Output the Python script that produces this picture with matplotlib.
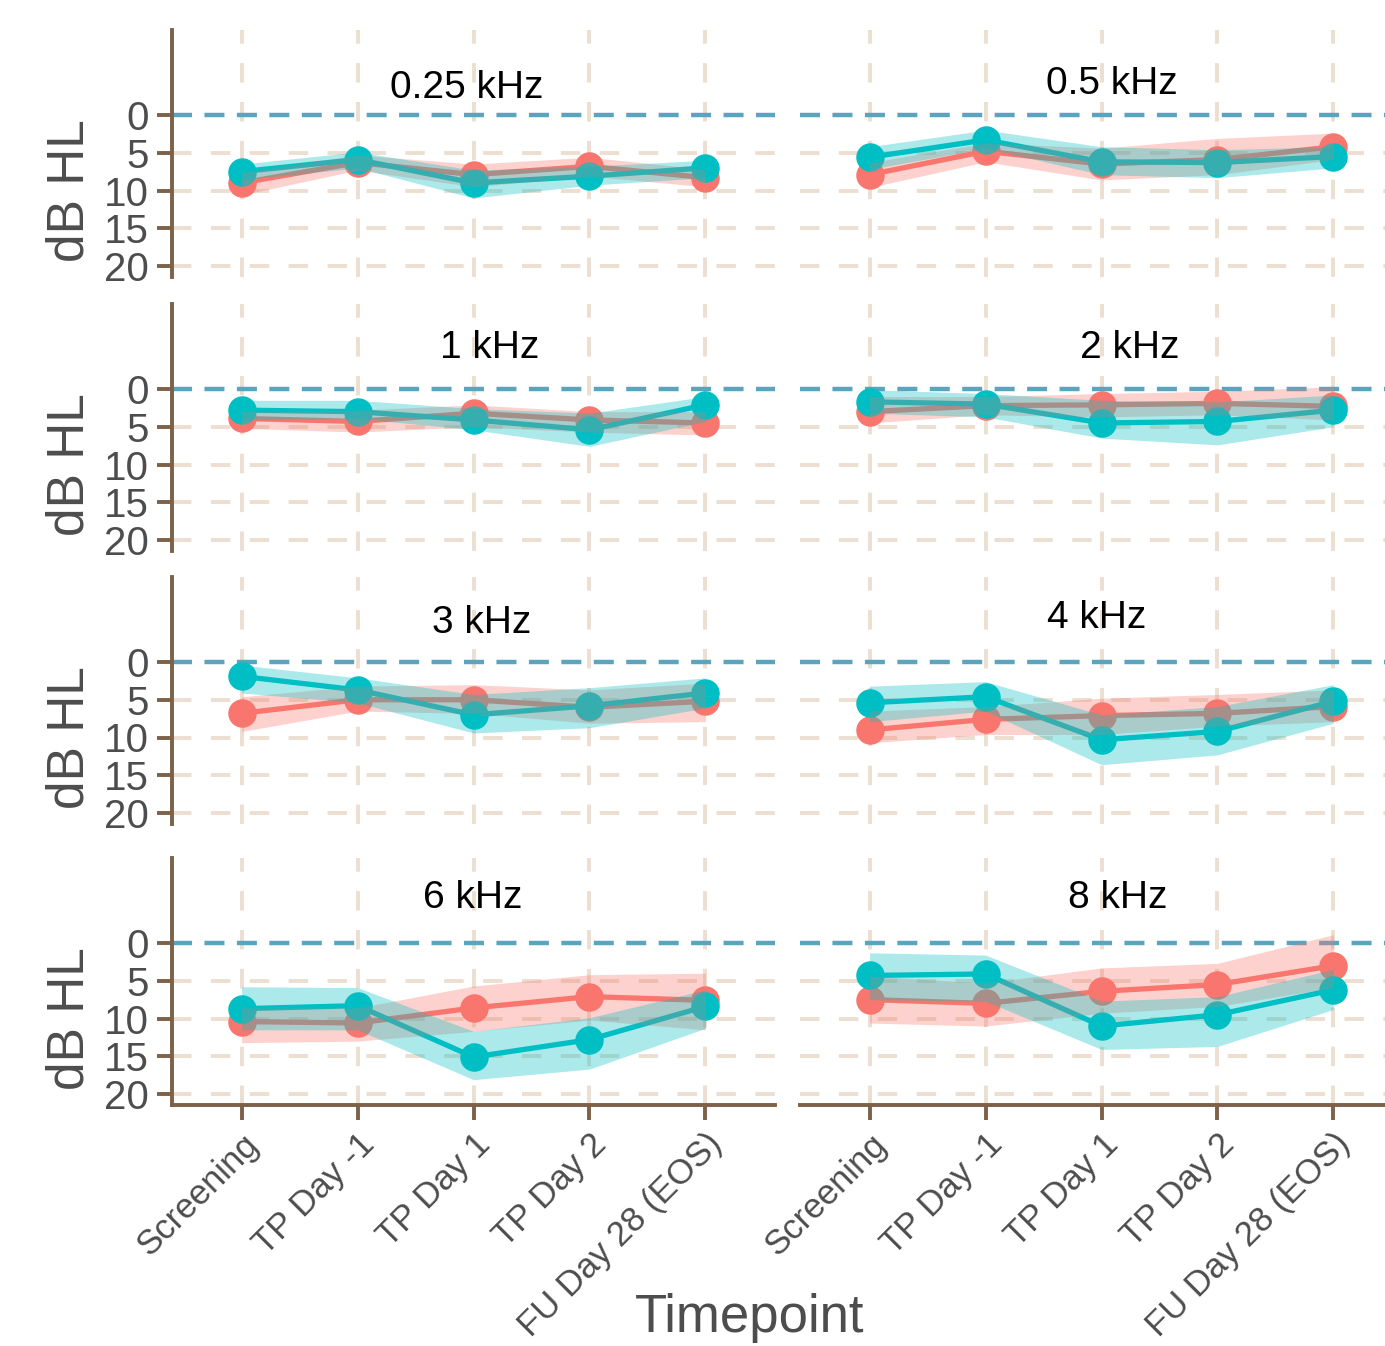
import numpy as np
import matplotlib
matplotlib.use("Agg")
import matplotlib.pyplot as plt

plt.rcParams['font.family'] = ['Liberation Sans', 'DejaVu Sans']

timepoints = ["Screening", "TP Day -1", "TP Day 1", "TP Day 2", "FU Day 28 (EOS)"]
freqs = ["0.25 kHz", "0.5 kHz", "1 kHz", "2 kHz", "3 kHz", "4 kHz", "6 kHz", "8 kHz"]

# red group: mean, lower and upper band (dB HL), one row per frequency
red_mean = [[9.0, 6.3, 7.9, 6.8, 8.3],
            [7.9, 4.8, 6.5, 5.9, 4.2],
            [3.9, 4.3, 3.2, 4.1, 4.5],
            [3.0, 2.2, 2.1, 1.9, 2.3],
            [6.8, 5.0, 5.0, 6.0, 5.2],
            [9.0, 7.6, 7.1, 6.8, 5.9],
            [10.4, 10.6, 8.6, 7.1, 7.6],
            [7.5, 8.0, 6.4, 5.5, 3.0]]
red_lo = [[7.6, 5.3, 6.5, 5.6, 7.2],
          [6.3, 3.7, 4.4, 3.1, 2.4],
          [3.0, 2.8, 2.1, 3.0, 3.0],
          [1.0, 1.0, 0.6, 0.3, -0.3],
          [4.6, 3.2, 3.0, 3.7, 2.8],
          [6.5, 5.9, 4.8, 4.3, 3.7],
          [8.6, 8.6, 5.7, 4.2, 4.0],
          [4.4, 5.3, 3.3, 2.7, -1.1]]
red_hi = [[10.6, 7.3, 9.5, 8.1, 9.5],
          [9.6, 6.2, 8.6, 7.9, 5.9],
          [5.2, 5.7, 5.0, 5.7, 6.1],
          [4.5, 3.4, 3.7, 3.4, 4.1],
          [9.2, 6.5, 6.8, 8.1, 7.9],
          [10.7, 9.6, 9.6, 8.5, 7.9],
          [13.2, 13.0, 11.7, 10.2, 11.5],
          [10.6, 11.0, 9.3, 8.4, 5.9]]

# teal group
teal_mean = [[7.5, 5.9, 9.0, 8.1, 7.0],
             [5.6, 3.3, 6.2, 6.3, 5.5],
             [2.8, 3.0, 4.1, 5.4, 2.1],
             [1.7, 2.0, 4.5, 4.3, 2.8],
             [1.9, 3.7, 7.0, 5.8, 4.1],
             [5.4, 4.6, 10.3, 9.2, 5.2],
             [8.7, 8.3, 15.1, 12.8, 8.4],
             [4.3, 4.1, 11.0, 9.5, 6.2]]
teal_lo = [[6.5, 4.9, 7.3, 6.8, 6.0],
           [4.2, 2.0, 4.2, 4.6, 4.2],
           [1.5, 1.5, 2.6, 3.2, 1.0],
           [0.1, 0.6, 1.5, 1.7, 0.8],
           [0.4, 2.1, 4.3, 3.4, 2.1],
           [3.2, 2.6, 7.0, 5.9, 3.0],
           [5.8, 5.9, 11.7, 9.9, 6.2],
           [1.3, 1.6, 7.7, 7.1, 3.5]]
teal_hi = [[8.6, 7.0, 11.0, 9.3, 8.3],
           [7.2, 4.4, 7.9, 8.3, 7.0],
           [4.1, 3.9, 5.4, 7.6, 4.3],
           [3.2, 3.7, 6.5, 7.4, 5.0],
           [4.1, 5.4, 9.4, 8.7, 6.1],
           [7.9, 6.5, 13.6, 12.3, 8.1],
           [11.5, 11.5, 18.1, 16.7, 11.3],
           [7.5, 7.7, 14.1, 13.7, 8.8]]

yticks = [0, 5, 10, 15, 20]

RED = '#F8766D'
TEAL = '#00BFC4'
AXC = '#7D6148'
GRID = '#ECDFD1'
ZERO = '#5BA4BE'
TXT = '#4D4D4D'

W, H = 1385, 1346
fig = plt.figure(figsize=(W / 100, H / 100), dpi=100)

# layout in pixels
col_left = [172, 800]
panel_w = 603
row_zero = [115, 389, 662, 943]
px_unit = 7.55
ylim = (21.5, -11.2)
title_xy = [(467, 88), (1112, 84), (490, 348), (1130, 348),
            (482, 623), (1097, 618), (473, 898), (1118, 898)]

x = np.arange(1, len(timepoints) + 1)

for i, name in enumerate(freqs):
    r, c = divmod(i, 2)
    top = row_zero[r] - (-ylim[1]) * px_unit
    h = (ylim[0] - ylim[1]) * px_unit
    ax = fig.add_axes([col_left[c] / W, 1 - (top + h) / H, panel_w / W, h / H])
    ax.set_xlim(0.4, 5.6)
    ax.set_ylim(*ylim)
    ax.patch.set_alpha(0)

    # grid
    for xv in x:
        ax.axvline(xv, color=GRID, lw=2.8, ls=(0, (5, 5)), zorder=0)
    for yv in yticks[1:]:
        ax.axhline(yv, color=GRID, lw=2.8, ls=(0, (5, 5)), zorder=0)
    ax.axhline(0, color=ZERO, lw=3.2, ls=(0, (4.5, 2.8)), zorder=1)

    ax.plot(x, red_mean[i], color=RED, lw=3.8, marker='o', ms=19.5, zorder=2)
    ax.plot(x, teal_mean[i], color=TEAL, lw=3.8, marker='o', ms=19.5, zorder=3)
    ax.fill_between(x, red_lo[i], red_hi[i], color=RED, alpha=0.33, lw=0, zorder=4)
    ax.fill_between(x, teal_lo[i], teal_hi[i], color=TEAL, alpha=0.33, lw=0, zorder=5)

    for s in ['top', 'right']:
        ax.spines[s].set_visible(False)
    ax.spines['left'].set_visible(c == 0)
    ax.spines['bottom'].set_visible(r == 3)
    for s in ['left', 'bottom']:
        ax.spines[s].set_color(AXC)
        ax.spines[s].set_linewidth(2.8)

    ax.set_yticks(yticks)
    if c == 0:
        ax.tick_params(axis='y', length=11, width=2.8, color=AXC, pad=6,
                       labelsize=29, labelcolor=TXT)
        fig.text(70 / W, 1 - (row_zero[r] + 10 * px_unit) / H, "dB HL",
                 rotation=90, ha='center', va='center', fontsize=37, color=TXT)
    else:
        ax.tick_params(axis='y', left=False, labelleft=False)

    ax.set_xticks(x)
    if r == 3:
        ax.set_xticklabels(timepoints, rotation=45, ha='right', va='top',
                           rotation_mode='anchor')
        ax.tick_params(axis='x', length=11, width=2.8, color=AXC, pad=5,
                       labelsize=25, labelcolor=TXT)
    else:
        ax.tick_params(axis='x', bottom=False, labelbottom=False)

    tx, ty = title_xy[i]
    fig.text(tx / W, 1 - ty / H, name, ha='center', va='center',
             fontsize=28, color='black')

fig.text(750 / W, 1 - 1318 / H, "Timepoint", ha='center', va='center',
         fontsize=38, color=TXT)

fig.savefig("out.png", dpi=100)
